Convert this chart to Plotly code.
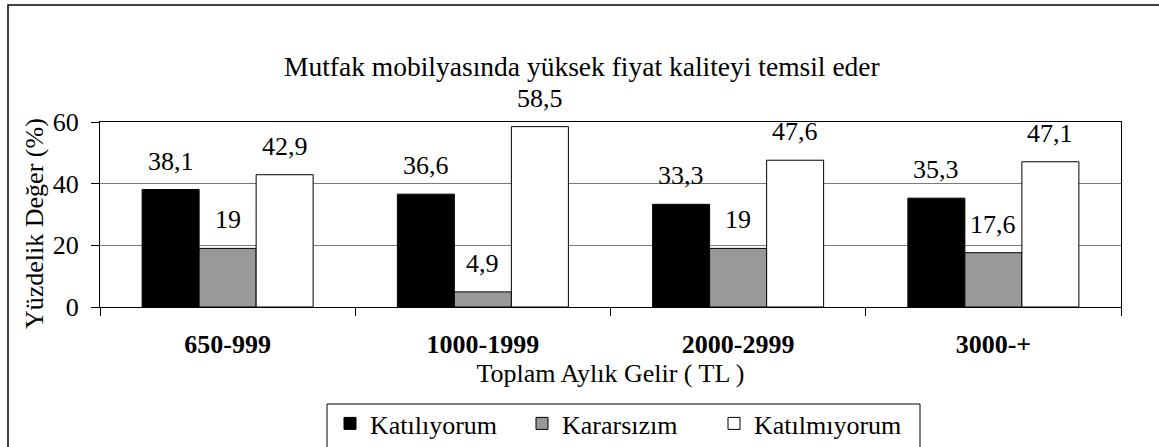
import plotly.graph_objects as go

# Monthly income groups and answer shares (%)
categories = ["650-999", "1000-1999", "2000-2999", "3000-+"]
series_names = ["Katılıyorum", "Kararsızım", "Katılmıyorum"]
katiliyorum = [38.1, 36.6, 33.3, 35.3]
kararsizim = [19, 4.9, 19, 17.6]
katilmiyorum = [42.9, 58.5, 47.6, 47.1]
y_ticks = [0, 20, 40, 60]

series_values = [katiliyorum, kararsizim, katilmiyorum]
fills = ["#000000", "#999999", "#ffffff"]
FONT = "Liberation Serif"
FS = 26

W, H = 1159, 447
L, R, T, B = 100, 38, 122, 140
plot_w = W - L - R
plot_h = H - T - B
bargap = 0.33
bar_px = plot_w / len(categories) * (1 - bargap) / 3


def px_x(p):
    return (p - L) / plot_w


def px_y(p):
    return (H - B - p) / plot_h


def fmt(v):
    return ("%g" % v).replace(".", ",")


def txt(size=FS, bold=False):
    d = dict(family=FONT, size=size, color="#000000")
    if bold:
        d["weight"] = "bold"
    return d


fig = go.Figure()
for name, vals, col in zip(series_names, series_values, fills):
    fig.add_trace(go.Bar(
        x=categories, y=vals, name=name,
        marker=dict(color=col, line=dict(color="#000000", width=1)),
        hoverinfo="skip",
    ))

# value labels above each bar
annotations = []
for i, vals in enumerate(series_values):
    offset = (i - 1) * bar_px
    for c, v in zip(categories, vals):
        annotations.append(dict(
            x=c, y=v, xref="x", yref="y", text=fmt(v),
            showarrow=False, xshift=offset, yshift=12, yanchor="bottom",
            font=txt(),
        ))

# chart title
annotations.append(dict(
    x=px_x(582), y=px_y(67), xref="paper", yref="paper",
    text="Mutfak mobilyasında yüksek fiyat kaliteyi temsil eder",
    showarrow=False, xanchor="center", yanchor="middle",
    font=txt(27.5),
))
# vertical axis title
annotations.append(dict(
    x=px_x(34), y=px_y(224), xref="paper", yref="paper",
    text="Yüzdelik Değer (%)", textangle=-90,
    showarrow=False, xanchor="center", yanchor="middle",
    font=txt(),
))

fig.update_layout(
    width=W, height=H,
    margin=dict(l=L, r=R, t=T, b=B, pad=0, autoexpand=False),
    paper_bgcolor="#ffffff", plot_bgcolor="#ffffff",
    barmode="group", bargap=bargap, bargroupgap=0,
    font=txt(),
    annotations=annotations,
    showlegend=True,
    legend=dict(
        orientation="h", xref="container", x=330 / W, xanchor="left",
        yref="container", y=0, yanchor="bottom",
        borderwidth=0, bgcolor="rgba(0,0,0,0)",
        font=txt(), entrywidth=147,
        traceorder="normal",
    ),
    shapes=[
        # outer frame
        dict(type="rect", xref="paper", yref="paper",
             x0=px_x(8), x1=px_x(W + 20), y0=px_y(H + 20), y1=px_y(5),
             line=dict(color="#000000", width=1.5),
             fillcolor="rgba(0,0,0,0)", layer="below"),
        # legend frame
        dict(type="rect", xref="paper", yref="paper",
             x0=px_x(327), x1=px_x(920), y0=px_y(H + 20), y1=px_y(404),
             line=dict(color="#000000", width=1),
             fillcolor="rgba(0,0,0,0)", layer="below"),
    ],
)

fig.update_xaxes(
    type="category", tickson="boundaries", ticks="outside", ticklen=8,
    tickcolor="#000000", showline=True, linecolor="#000000", linewidth=1,
    mirror=True, showgrid=False, ticklabelstandoff=14, automargin=False,
    tickfont=txt(bold=True),
    title=dict(text="Toplam Aylık Gelir ( TL )", standoff=0, font=txt()),
)
fig.update_yaxes(
    range=[0, 60], tickvals=y_ticks, ticks="outside", ticklen=8,
    tickcolor="#000000", showline=True, linecolor="#000000", linewidth=1,
    mirror=True, showgrid=True, gridcolor="#7a7a7a", gridwidth=1,
    zeroline=False, ticklabelstandoff=7, automargin=False,
    tickfont=txt(),
)

fig.write_html("out.html")
